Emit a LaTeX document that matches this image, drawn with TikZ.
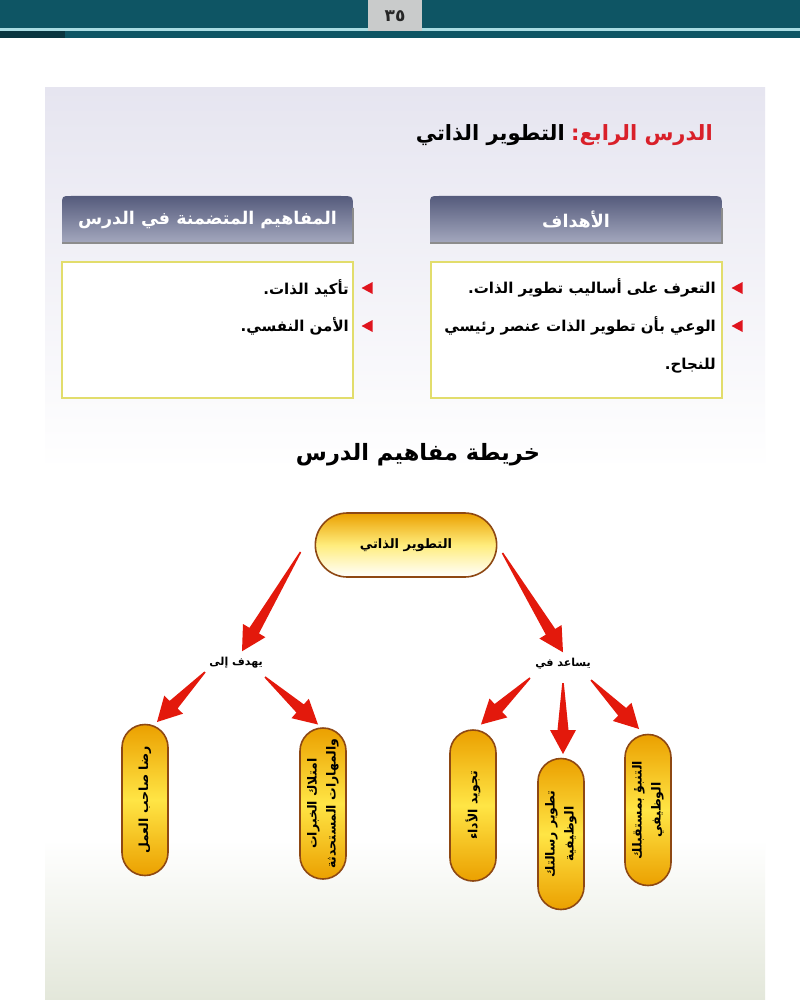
\documentclass[tikz,border=0pt]{standalone}
\usepackage{fontspec}
\usetikzlibrary{calc,shapes.misc,shapes.geometric}
\TeXXeTstate=1
\newfontfamily\arabicfont[Script=Arabic]{DejaVu Sans}
\definecolor{barteal}{HTML}{0E5564}
\definecolor{barline}{HTML}{A9DCE2}
\definecolor{bardark}{HTML}{0A3640}
\definecolor{pagegrey}{HTML}{C9CBCB}
\definecolor{lav}{HTML}{E6E5F0}
\definecolor{panelbot}{HTML}{E3E7DA}
\definecolor{titlered}{HTML}{D9202A}
\definecolor{tabtop}{HTML}{555B7C}
\definecolor{tabbot}{HTML}{A4A8BE}
\definecolor{boxedge}{HTML}{E2DD6C}
\definecolor{bulletred}{HTML}{E0141E}
\definecolor{pillorange}{HTML}{EBA000}
\definecolor{pillyellow}{HTML}{FFE545}
\definecolor{pilledge}{HTML}{8E4813}
\definecolor{arrowred}{HTML}{E3190C}
\tikzset{
  titletext/.style={font=\arabicfont\bfseries\fontsize{21}{26}\selectfont, inner sep=0pt},
  maptext/.style={font=\arabicfont\bfseries\fontsize{22.5}{26}\selectfont, inner sep=0pt},
  tabtext/.style={font=\arabicfont\bfseries\fontsize{17.5}{22}\selectfont, text=white, inner sep=0pt},
  bodytext/.style={font=\arabicfont\bfseries\fontsize{15}{19}\selectfont, inner sep=0pt, anchor=east},
  yellowbox/.style={draw=boxedge, line width=2pt, fill=white, minimum width=291pt, minimum height=136pt, inner sep=0pt},
  bulletmark/.style={isosceles triangle, shape border rotate=180, fill=bulletred, minimum width=12pt, minimum height=11pt, inner sep=0pt, isosceles triangle stretches},
  rootpill/.style={rounded rectangle, draw=pilledge, line width=1.6pt, minimum width=188pt, minimum height=64pt,
     top color=pillorange, bottom color=white, middle color=pillyellow!70!white,
     font=\arabicfont\bfseries\fontsize{13}{16}\selectfont},
  linklabel/.style={font=\arabicfont\bfseries\fontsize{11}{14}\selectfont, inner sep=1pt},
  leafpill/.style={rounded rectangle, draw=pilledge, line width=1.6pt, minimum width=155pt, minimum height=46pt,
     rotate=90, top color=pillorange, bottom color=pillorange, middle color=pillyellow,
     font=\arabicfont\bfseries\fontsize{12.5}{19}\selectfont, align=center, inner sep=2pt},
  fatfill/.style={fill=arrowred}
}
\newcommand\fatarrow[2]{%
  \fill[fatfill] ($(#1)!0.8pt!90:(#2)$) -- ($(#2)!24pt!(#1)!5.5pt!-90:(#1)$) -- ($(#2)!24pt!(#1)!13pt!-90:(#1)$)
    -- (#2) -- ($(#2)!24pt!(#1)!13pt!90:(#1)$) -- ($(#2)!24pt!(#1)!5.5pt!90:(#1)$) -- ($(#1)!0.8pt!-90:(#2)$) -- cycle;}
\begin{document}
\begin{tikzpicture}[x=1pt,y=-1pt]
\useasboundingbox (0,0) rectangle (800,1000);
\fill[white] (0,0) rectangle (800,1000);
% page panel
\shade[top color=lav, bottom color=white] (45,88) rectangle (765,470);
\fill[white] (45,470) rectangle (765,840);
\shade[top color=white, bottom color=panelbot] (45,840) rectangle (765,1000);
% top bar
\fill[barteal] (0,0) rectangle (800,28);
\fill[barline] (0,28) rectangle (800,31);
\fill[barteal] (0,31) rectangle (800,38);
\fill[bardark] (0,31) rectangle (65,38);
\node[fill=pagegrey, minimum width=54pt, minimum height=31pt, anchor=north, inner sep=0pt,
      font=\arabicfont\bfseries\fontsize{17}{20}\selectfont, text=black!85] (pagenum) at (395,0) {٣٥};
% title
\node[titletext, text=titlered, anchor=east] (titlered) at (713,135) {\beginR الدرس الرابع:\endR};
\node[titletext, anchor=east] (titleblack) at ($(titlered.west)+(-6,0)$) {\beginR التطوير الذاتي\endR};
% tabs
\shade[top color=tabtop, bottom color=tabbot] (62,243) -- (62,205) .. controls (62,196) .. (71,196) -- (341,196) .. controls (353,196) .. (353,208) -- (353,243) -- cycle;
\shade[top color=tabtop, bottom color=tabbot] (430,243) -- (430,205) .. controls (430,196) .. (439,196) -- (710,196) .. controls (722,196) .. (722,208) -- (722,243) -- cycle;
\draw[black!45, line width=1.2pt] (62,243) -- (353,243) -- (353,208);
\draw[black!45, line width=1.2pt] (430,243) -- (722,243) -- (722,208);
\node[tabtext] (tableft) at (207.5,220) {\beginR المفاهيم المتضمنة في الدرس\endR};
\node[tabtext] (tabright) at (576,220) {\beginR الأهداف\endR};
% boxes
\node[yellowbox] (boxleft) at (207.5,330) {};
\node[yellowbox] (boxright) at (576,330) {};
\node[bulletmark] (b1) at (739,288) {};
\node[bulletmark] (b2) at (739,326) {};
\node[bulletmark] (b3) at (369,288) {};
\node[bulletmark] (b4) at (369,326) {};
\node[bodytext] (g1) at (716,288) {\beginR التعرف على أساليب تطوير الذات.\endR};
\node[bodytext] (g2) at (716,326) {\beginR الوعي بأن تطوير الذات عنصر رئيسي\endR};
\node[bodytext] (g3) at (716,366) {\beginR للنجاح.\endR};
\node[bodytext] (c1) at (349,288) {\beginR تأكيد الذات.\endR};
\node[bodytext] (c2) at (349,326) {\beginR الأمن النفسي.\endR};
% map title
\node[maptext] (maptitle) at (418,455) {\beginR خريطة مفاهيم الدرس\endR};
% concept map
\node[rootpill] (root) at (406,545) {\beginR التطوير الذاتي\endR};
\node[linklabel] (l1) at (236,663) {\beginR يهدف إلى\endR};
\node[linklabel] (l2) at (563,664) {\beginR يساعد في\endR};
\node[leafpill] (p1) at (145,800) {\beginR رضا صاحب العمل\endR};
\node[leafpill] (p2) at (323,803.5) {\beginR امتلاك الخبرات\endR\\\beginR والمهارات المستحدثة\endR};
\node[leafpill] (p3) at (473,805.5) {\beginR تجويد الأداء\endR};
\node[leafpill] (p4) at (561,834) {\beginR تطوير رسالتك\endR\\\beginR الوظيفية\endR};
\node[leafpill] (p5) at (648,810) {\beginR التنبؤ بمستقبلك\endR\\\beginR الوظيفي\endR};
% arrow ends
\coordinate (a1s) at ($(root.west)+(-14,7)$);
\coordinate (a1e) at ($(l1.north)+(6,-5)$);
\coordinate (a2s) at ($(root.east)+(5,8)$);
\coordinate (a2e) at ($(l2.north)+(0,-5)$);
\coordinate (a3s) at ($(l1)+(-31,9)$);
\coordinate (a3e) at ($(p1)+(12,-78)$);
\coordinate (a4s) at ($(l1)+(29,14)$);
\coordinate (a4e) at ($(p2)+(-5,-79)$);
\coordinate (a5s) at ($(l2)+(-33,14)$);
\coordinate (a5e) at ($(p3)+(8,-81)$);
\coordinate (a6s) at ($(l2)+(0,19)$);
\coordinate (a6e) at ($(p4)+(2,-80)$);
\coordinate (a7s) at ($(l2)+(28,16)$);
\coordinate (a7e) at ($(p5)+(-9,-81)$);
\fatarrow{a1s}{a1e}
\fatarrow{a2s}{a2e}
\fatarrow{a3s}{a3e}
\fatarrow{a4s}{a4e}
\fatarrow{a5s}{a5e}
\fatarrow{a6s}{a6e}
\fatarrow{a7s}{a7e}
\end{tikzpicture}
\end{document}
